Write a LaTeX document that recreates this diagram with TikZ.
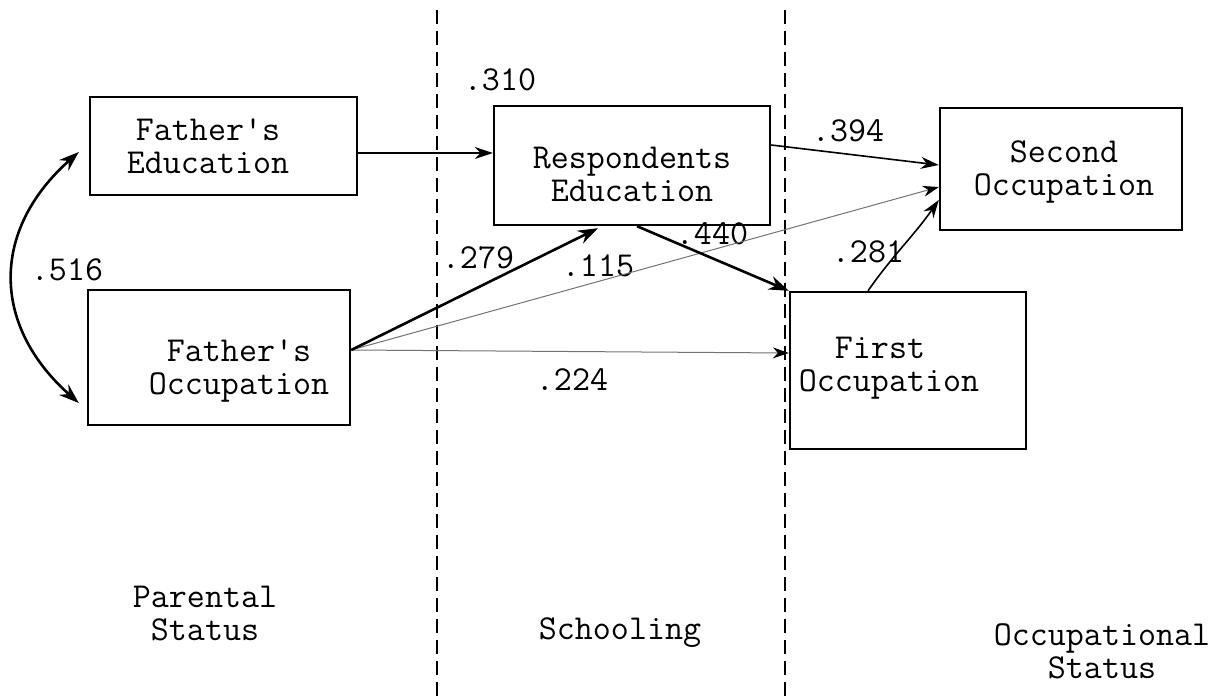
\documentclass[tikz,border=0pt]{standalone}
\usepackage{fontspec}
\usetikzlibrary{arrows.meta}
\tikzset{
  txt/.style={font=\ttfamily\fontsize{35}{33}\selectfont, align=center, inner sep=0pt},
  boxn/.style={draw, line width=2.4pt, inner sep=0pt},
  divider/.style={line width=1.8pt, dash pattern=on 14pt off 7pt},
  thickarr/.style={line width=2.6pt, -{Stealth[length=20pt,width=14pt]}},
  medarr/.style={line width=1.6pt, -{Stealth[length=18pt,width=12pt]}},
  faintarr/.style={line width=1pt, black!55, -{Stealth[length=16pt,width=11pt,black]}},
  dblarr/.style={line width=2.6pt, {Stealth[length=20pt,width=14pt]}-{Stealth[length=20pt,width=14pt]}}
}
\begin{document}
\begin{tikzpicture}[x=1pt,y=-1pt]
\useasboundingbox (0,0) rectangle (1225,697);
% dividers
\coordinate (d1t) at (437,10);
\coordinate (d1b) at (437,697);
\coordinate (d2t) at (785,10);
\coordinate (d2b) at (785,697);
\draw[divider] (d1t) -- (d1b);
\draw[divider] (d2t) -- (d2b);
% boxes
\node[boxn, minimum width=267pt, minimum height=98pt] (fe) at (223.5,146) {};
\node[boxn, minimum width=262pt, minimum height=135pt] (fo) at (219,357.5) {};
\node[boxn, minimum width=276pt, minimum height=119pt] (re) at (632,165.5) {};
\node[boxn, minimum width=242pt, minimum height=122pt] (so) at (1061,169) {};
\node[boxn, minimum width=236pt, minimum height=157pt] (fi) at (908,370.5) {};
% box texts
\node[txt] (fet) at (208,146) {Father's\\Education};
\node[txt] (fot) at (239,371) {Father's\\Occupation};
\node[txt] (ret) at (632,174) {Respondents\\Education};
\node[txt] (sot) at (1064,172) {Second\\Occupation};
\node[txt, align=left] (fit) at (889,368) {\ \ First\\Occupation};
% column labels
\node[txt] (ps) at (205,614) {Parental\\Status};
\node[txt] (sc) at (620,633) {Schooling};
\node[txt] (os) at (1102,651) {Occupational\\Status};
% path coefficients
\node[txt] (c516) at (67,270) {.516};
\node[txt] (c310) at (500,80) {.310};
\node[txt] (c279) at (478,258) {.279};
\node[txt] (c115) at (598,266) {.115};
\node[txt] (c440) at (712,234) {.440};
\node[txt] (c224) at (572,380) {.224};
\node[txt] (c394) at (848,131) {.394};
\node[txt] (c281) at (868,252) {.281};
% connectors
\draw[medarr] ([yshift=-7pt]fe.east) -- ([yshift=12.5pt]re.west);
\draw[faintarr] ([yshift=7.5pt]fo.east) -- ([yshift=-18pt]so.west);
\draw[faintarr] ([yshift=7.5pt]fo.east) -- ([yshift=17.5pt]fi.west);
\draw[thickarr] ([yshift=7.5pt]fo.east) -- ([xshift=-34pt,yshift=-2pt]re.south);
\draw[thickarr] ([xshift=5pt]re.south) -- (fi.north west);
\draw[medarr] ([yshift=20.5pt]re.east) -- ([yshift=4pt]so.west);
\draw[medarr] ([xshift=-40pt]fi.north) to[out=55,in=235] ([yshift=-31pt]so.west);
\draw[dblarr] ([xshift=-10pt,yshift=-6pt]fe.west) .. controls (-9,230) and (-9,325) .. ([xshift=-8pt,yshift=-45.5pt]fo.west);
\end{tikzpicture}
\end{document}
